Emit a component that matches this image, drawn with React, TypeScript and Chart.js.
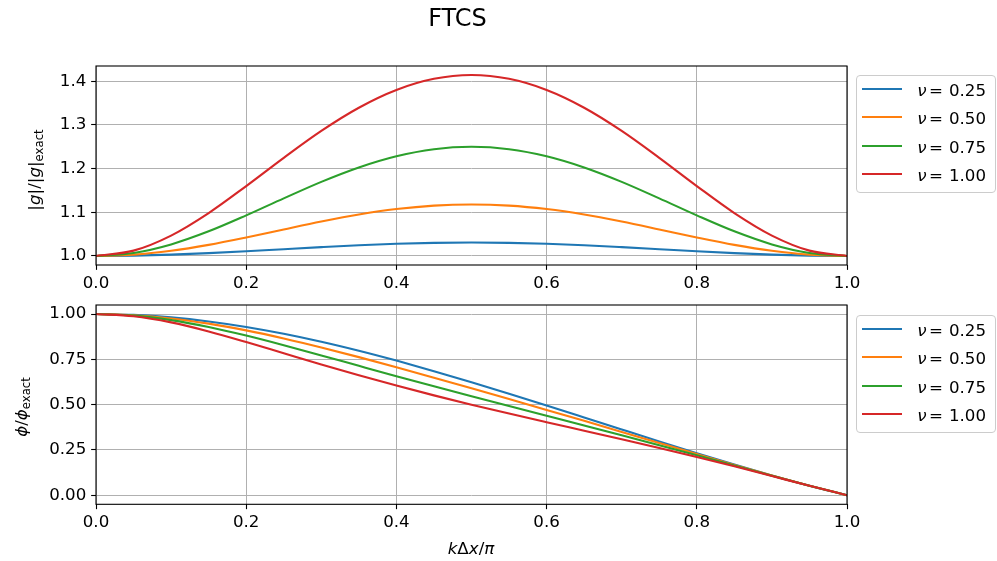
import React, { useEffect, useRef } from "react";
import { Chart, registerables } from "chart.js";

Chart.register(...registerables);

// ---------- data ----------
const xs = [0, 0.05, 0.1, 0.15, 0.2, 0.25, 0.3, 0.35, 0.4, 0.45, 0.5, 0.55, 0.6, 0.65, 0.7, 0.75, 0.8, 0.85, 0.9, 0.95, 1.0];

const nuLabels = ["0.25", "0.50", "0.75", "1.00"];
const colors = ["#1f77b4", "#ff7f0e", "#2ca02c", "#d62728"];

// |g| / |g|_exact
const amp025 = [1, 1.0008, 1.003, 1.0064, 1.0107, 1.0155, 1.0202, 1.0245, 1.0279, 1.03, 1.0308, 1.03, 1.0279, 1.0245, 1.0202, 1.0155, 1.0107, 1.0064, 1.003, 1.0008, 1];
const amp050 = [1, 1.0031, 1.0119, 1.0254, 1.0423, 1.0607, 1.0787, 1.0948, 1.1073, 1.1153, 1.118, 1.1153, 1.1073, 1.0948, 1.0787, 1.0607, 1.0423, 1.0254, 1.0119, 1.0031, 1];
const amp075 = [1, 1.0069, 1.0265, 1.0564, 1.0929, 1.1319, 1.1697, 1.2027, 1.2283, 1.2445, 1.25, 1.2445, 1.2283, 1.2027, 1.1697, 1.1319, 1.0929, 1.0564, 1.0265, 1.0069, 1];
const amp100 = [1, 1.0122, 1.0467, 1.0982, 1.16, 1.2247, 1.2863, 1.3394, 1.38, 1.4055, 1.4142, 1.4055, 1.38, 1.3394, 1.2863, 1.2247, 1.16, 1.0982, 1.0467, 1.0122, 1];

// phi / phi_exact
const ph025 = [1, 0.99537, 0.98169, 0.95929, 0.92884, 0.89111, 0.84697, 0.79732, 0.74303, 0.68495, 0.62384, 0.56041, 0.49536, 0.42933, 0.36299, 0.29704, 0.23221, 0.16929, 0.10908, 0.05239, 0];
const ph050 = [1, 0.99384, 0.97592, 0.94735, 0.90987, 0.86539, 0.8157, 0.76232, 0.70646, 0.64894, 0.59034, 0.53095, 0.47097, 0.41048, 0.34958, 0.28846, 0.22747, 0.16718, 0.10844, 0.05231, 0];
const ph075 = [1, 0.99133, 0.96658, 0.92856, 0.88111, 0.8278, 0.77156, 0.71435, 0.65741, 0.60131, 0.54622, 0.49198, 0.43828, 0.38465, 0.33067, 0.27593, 0.22028, 0.16386, 0.1074, 0.05218, 0];
const ph100 = [1, 0.98788, 0.954, 0.90435, 0.84573, 0.78365, 0.72173, 0.66193, 0.60504, 0.55118, 0.5, 0.45096, 0.40336, 0.35642, 0.30931, 0.26122, 0.21143, 0.15959, 0.106, 0.05199, 0];

const xTicks = [0, 0.2, 0.4, 0.6, 0.8, 1.0];
const ampTicks = [1.0, 1.1, 1.2, 1.3, 1.4];
const phTicks = [0, 0.25, 0.5, 0.75, 1.0];

const ampSeries = [amp025, amp050, amp075, amp100];
const phSeries = [ph025, ph050, ph075, ph100];

// ---------- styling ----------
const FONT = "'DejaVu Sans', 'Liberation Sans', sans-serif";
const FS = 16.67;
const W = 997;
const PLOT_LEFT = 96;
const PLOT_RIGHT = 847;

const spinePlugin = {
  id: "spines",
  afterDatasetsDraw(chart: any) {
    const { ctx, chartArea: a } = chart;
    ctx.save();
    ctx.strokeStyle = "#000";
    ctx.lineWidth = 1.1;
    ctx.strokeRect(a.left, a.top, a.right - a.left, a.bottom - a.top);
    ctx.restore();
  },
};

type PanelProps = {
  series: number[][];
  yMin: number;
  yMax: number;
  yTicks: number[];
  yDec: number;
  canvasTop: number;
  canvasHeight: number;
  plotTop: number;
  plotBottom: number;
};

function Panel(p: PanelProps) {
  const ref = useRef<HTMLCanvasElement | null>(null);
  useEffect(() => {
    if (!ref.current) return;
    const datasets = p.series.map((arr, i) => ({
      label: "ν = " + nuLabels[i],
      data: xs.map((x, j) => ({ x, y: arr[j] })),
      borderColor: colors[i],
      backgroundColor: colors[i],
      borderWidth: 2.08,
      pointRadius: 0,
      fill: false,
      cubicInterpolationMode: "monotone" as const,
      order: p.series.length - i,
    }));
    const xAxisHeight = p.canvasHeight - (p.plotBottom - p.canvasTop);
    const chart = new Chart(ref.current, {
      type: "line",
      data: { datasets },
      options: {
        animation: false,
        responsive: false,
        devicePixelRatio: 1,
        layout: {
          padding: { left: 0, right: W - PLOT_RIGHT, top: p.plotTop - p.canvasTop, bottom: 0 },
        },
        plugins: { legend: { display: false }, tooltip: { enabled: false }, title: { display: false } },
        scales: {
          x: {
            type: "linear",
            min: 0,
            max: 1,
            border: { display: false },
            grid: { color: "#b0b0b0", lineWidth: 1, drawTicks: true, tickLength: 4.86, tickColor: "#000", tickWidth: 1.1 },
            ticks: {
              color: "#000",
              font: { family: FONT, size: FS },
              padding: 3.5,
              maxRotation: 0,
              autoSkip: false,
              callback: (v: any) => Number(v).toFixed(1),
            },
            afterBuildTicks: (s: any) => {
              s.ticks = xTicks.map((v) => ({ value: v }));
            },
            afterFit: (s: any) => {
              s.height = xAxisHeight;
            },
          },
          y: {
            type: "linear",
            min: p.yMin,
            max: p.yMax,
            border: { display: false },
            grid: { color: "#b0b0b0", lineWidth: 1, drawTicks: true, tickLength: 4.86, tickColor: "#000", tickWidth: 1.1 },
            ticks: {
              color: "#000",
              font: { family: FONT, size: FS },
              padding: 4.86,
              autoSkip: false,
              callback: (v: any) => Number(v).toFixed(p.yDec),
            },
            afterBuildTicks: (s: any) => {
              s.ticks = p.yTicks.map((v) => ({ value: v }));
            },
            afterFit: (s: any) => {
              s.width = PLOT_LEFT;
            },
          },
        },
      },
      plugins: [spinePlugin],
    });
    return () => chart.destroy();
  }, []);
  return (
    <canvas
      ref={ref}
      width={W}
      height={p.canvasHeight}
      style={{ position: "absolute", left: 0, top: p.canvasTop, width: W, height: p.canvasHeight }}
    />
  );
}

function Legend({ top }: { top: number }) {
  const rows = [14.2, 42.4, 70.6, 98.8];
  return (
    <div
      style={{
        position: "absolute",
        left: 855.7,
        top,
        width: 140.3,
        height: 118.3,
        boxSizing: "border-box",
        border: "1.2px solid #cccccc",
        borderRadius: 4,
        background: "rgba(255,255,255,0.8)",
        fontFamily: FONT,
        fontSize: FS,
        color: "#000",
      }}
    >
      {rows.map((ry, i) => (
        <React.Fragment key={i}>
          <div
            style={{
              position: "absolute",
              left: 5.5,
              top: ry - 1.04 - 1,
              width: 40,
              height: 2.08,
              background: colors[i],
            }}
          />
          <div
            style={{
              position: "absolute",
              left: 60.5,
              top: ry - 9,
              lineHeight: "20px",
              whiteSpace: "nowrap",
            }}
          >
            <span style={{ fontStyle: "italic" }}>ν</span>
            <span style={{ marginLeft: 2.5 }}>=</span>
            <span style={{ marginLeft: 6 }}>{nuLabels[i]}</span>
          </div>
        </React.Fragment>
      ))}
    </div>
  );
}

export default function App() {
  return (
    <div style={{ position: "absolute", left: 0, top: 0, width: W, height: 561, background: "#fff", fontFamily: FONT }}>
      <Panel
        series={ampSeries}
        yMin={0.97929}
        yMax={1.43492}
        yTicks={ampTicks}
        yDec={1}
        canvasTop={0}
        canvasHeight={300}
        plotTop={66}
        plotBottom={265}
      />
      <Panel
        series={phSeries}
        yMin={-0.05}
        yMax={1.05}
        yTicks={phTicks}
        yDec={2}
        canvasTop={270}
        canvasHeight={291}
        plotTop={305}
        plotBottom={504.3}
      />
      {/* title */}
      <div
        style={{
          position: "absolute",
          left: 457.5,
          top: 3.7,
          transform: "translateX(-50%)",
          fontSize: 24,
          lineHeight: "28px",
          whiteSpace: "nowrap",
          color: "#000",
        }}
      >
        FTCS
      </div>
      {/* y label top */}
      <div
        style={{
          position: "absolute",
          left: 36.5,
          top: 170,
          transform: "translate(-50%, -50%) rotate(-90deg)",
          fontSize: FS,
          lineHeight: "20px",
          whiteSpace: "nowrap",
          color: "#000",
        }}
      >
        |<i>g</i>|/|<i>g</i>|<sub style={{ fontSize: 11.7, verticalAlign: "-3px" }}>exact</sub>
      </div>
      {/* y label bottom */}
      <div
        style={{
          position: "absolute",
          left: 24,
          top: 406.5,
          transform: "translate(-50%, -50%) rotate(-90deg)",
          fontSize: FS,
          lineHeight: "20px",
          whiteSpace: "nowrap",
          color: "#000",
        }}
      >
        <i>ϕ</i>/<i>ϕ</i><sub style={{ fontSize: 11.7, verticalAlign: "-3px" }}>exact</sub>
      </div>
      {/* x label */}
      <div
        style={{
          position: "absolute",
          left: 471,
          top: 538.6,
          transform: "translateX(-50%)",
          fontSize: FS,
          lineHeight: "20px",
          whiteSpace: "nowrap",
          color: "#000",
        }}
      >
        <i>k</i>Δ<i>x</i>/<i>π</i>
      </div>
      <Legend top={75} />
      <Legend top={315} />
    </div>
  );
}
